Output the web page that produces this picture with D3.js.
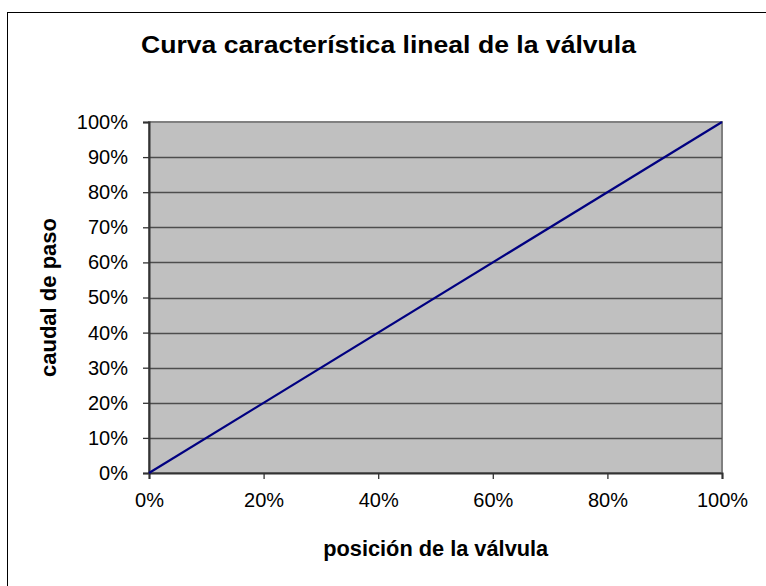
<!DOCTYPE html>
<html>
<head>
<meta charset="utf-8">
<script src="https://cdn.jsdelivr.net/npm/d3@7"></script>
<style>
  body { margin: 0; background: #fff; }
  text { font-family: "Liberation Sans", Arial, sans-serif; fill: #000; }
</style>
</head>
<body>
<div id="chart"></div>
<script>
const titleText = "Curva característica lineal de la válvula";
const xLabel = "posición de la válvula";
const yLabel = "caudal de paso";
// valve position vs flow (linear)
const position = [0, 1];
const flow = [0, 1];
const xTicks = [0, 0.2, 0.4, 0.6, 0.8, 1];
const yTicks = [0, 0.1, 0.2, 0.3, 0.4, 0.5, 0.6, 0.7, 0.8, 0.9, 1];

const W = 766, H = 586;
const margin = { top: 122, right: 44, bottom: 113, left: 149 };
const width = W - margin.left - margin.right;
const height = H - margin.top - margin.bottom;

const svg = d3.select("#chart").append("svg")
  .attr("width", W).attr("height", H);

// outer frame
svg.append("rect")
  .attr("x", 7.5).attr("y", 12.5)
  .attr("width", 800).attr("height", 800)
  .attr("fill", "none").attr("stroke", "#000").attr("stroke-width", 1);

const g = svg.append("g").attr("transform", `translate(${margin.left},${margin.top})`);

const x = d3.scaleLinear().domain([0, 1]).range([0, width]);
const y = d3.scaleLinear().domain([0, 1]).range([height, 0]);

g.append("rect")
  .attr("width", width).attr("height", height)
  .attr("fill", "#c0c0c0").attr("stroke", "#808080").attr("stroke-width", 2);

// gridlines
g.selectAll(".grid").data(yTicks.slice(1, -1)).join("line")
  .attr("x1", 0).attr("x2", width)
  .attr("y1", d => Math.round(y(d)) + 0.5).attr("y2", d => Math.round(y(d)) + 0.5)
  .attr("stroke", "#4d4d4d").attr("stroke-width", 1.3);

const fmt = d3.format(".0%");

const yAxis = g.append("g")
  .call(d3.axisLeft(y).tickValues(yTicks).tickFormat(fmt).tickSize(6).tickPadding(15));
const xAxis = g.append("g").attr("transform", `translate(0,${height})`)
  .call(d3.axisBottom(x).tickValues(xTicks).tickFormat(fmt).tickSize(6).tickPadding(14));

[yAxis, xAxis].forEach(a => {
  a.select(".domain").attr("stroke", "#333").attr("stroke-width", 2);
  a.selectAll(".tick line").attr("stroke", "#333").attr("stroke-width", 1.3);
  a.selectAll(".tick text").style("font-size", "20px").attr("fill", "#000");
});

const line = d3.line()
  .x((d, i) => x(position[i]))
  .y(d => y(d));
g.append("path").datum(flow)
  .attr("d", line)
  .attr("fill", "none").attr("stroke", "#000080").attr("stroke-width", 2.2);

svg.append("text")
  .attr("x", 388.5).attr("y", 53)
  .attr("text-anchor", "middle")
  .attr("textLength", 495).attr("lengthAdjust", "spacingAndGlyphs")
  .style("font-size", "24px").style("font-weight", "bold")
  .text(titleText);

svg.append("text")
  .attr("x", 435.7).attr("y", 556)
  .attr("text-anchor", "middle")
  .attr("textLength", 225).attr("lengthAdjust", "spacingAndGlyphs")
  .style("font-size", "22px").style("font-weight", "bold")
  .text(xLabel);

svg.append("text")
  .attr("transform", `translate(56,297.5) rotate(-90)`)
  .attr("text-anchor", "middle")
  .attr("textLength", 159).attr("lengthAdjust", "spacingAndGlyphs")
  .style("font-size", "22px").style("font-weight", "bold")
  .text(yLabel);
</script>
</body>
</html>
